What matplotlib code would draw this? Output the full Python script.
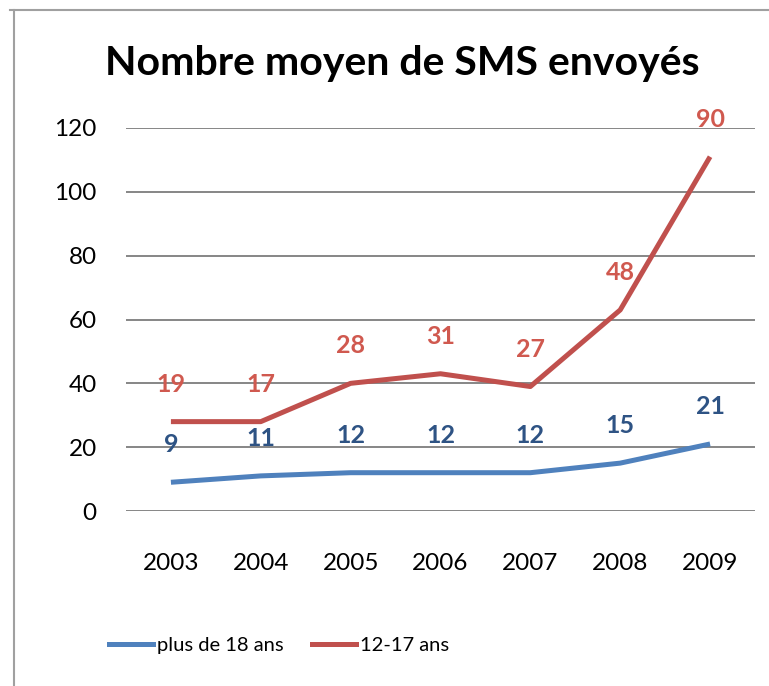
import numpy as np
import matplotlib
matplotlib.use("Agg")
from matplotlib import pyplot as plt
from matplotlib.lines import Line2D

years = ["2003", "2004", "2005", "2006", "2007", "2008", "2009"]
adults = [9, 11, 12, 12, 12, 15, 21]
teens = [19, 17, 28, 31, 27, 48, 90]
y_ticks = [0, 20, 40, 60, 80, 100, 120]

BLUE = "#4F81BD"
RED = "#C0504D"
FONT = "Lato"

fig = plt.figure(figsize=(7.69, 6.86), dpi=100)
ax = fig.add_axes([126 / 769, (686 - 511) / 686, 629 / 769, 383 / 686])

x = np.arange(len(years))
# the chart is a stacked line chart: the red line sits on top of the blue one
stacked = np.array(adults) + np.array(teens)

ax.plot(x, adults, color=BLUE, linewidth=3.6, solid_capstyle="butt", solid_joinstyle="round")
ax.plot(x, stacked, color=RED, linewidth=3.6, solid_capstyle="butt", solid_joinstyle="round")

for xi, v, lab in zip(x, adults, adults):
    ax.annotate(str(lab), (xi, v), textcoords="offset points", xytext=(0, 27),
                ha="center", va="center", fontsize=18, fontweight="bold",
                color="#2E5384", family=FONT)
for xi, v, lab in zip(x, stacked, teens):
    ax.annotate(str(lab), (xi, v), textcoords="offset points", xytext=(0, 27),
                ha="center", va="center", fontsize=18, fontweight="bold",
                color="#D0594F", family=FONT)

ax.set_xlim(-0.5, len(years) - 0.5)
ax.set_ylim(0, 120)
ax.set_yticks(y_ticks)
ax.set_xticks(x)
ax.set_xticklabels(years)
ax.yaxis.grid(True, color="#868686", linewidth=1.4)
ax.set_axisbelow(True)
for s in ax.spines.values():
    s.set_visible(False)
ax.tick_params(axis="both", length=0, labelsize=17.5)
ax.tick_params(axis="y", pad=21)
ax.tick_params(axis="x", pad=30)
for lab in ax.get_xticklabels() + ax.get_yticklabels():
    lab.set_family(FONT)

fig.text((105 + 700) / 2 / 769, 1 - 63 / 686, "Nombre moyen de SMS envoyés",
         ha="center", va="center", fontsize=29.5, fontweight="bold", family=FONT)

handles = [Line2D([], [], color=BLUE, linewidth=3.6),
           Line2D([], [], color=RED, linewidth=3.6)]
fig.legend(handles, ["plus de 18 ans", "12-17 ans"], loc="center",
           bbox_to_anchor=(279 / 769, 1 - 645 / 686), ncol=2, frameon=False,
           prop={"family": FONT, "size": 14.5}, handlelength=2.2, handletextpad=0.2,
           columnspacing=1.4)

# chart area border (only top and left visible in the crop)
fig.add_artist(Line2D([10 / 769, 1], [1 - 10 / 686, 1 - 10 / 686], color="#A0A0A0", linewidth=1.5))
fig.add_artist(Line2D([14 / 769, 14 / 769], [0, 1 - 10 / 686], color="#A0A0A0", linewidth=1.5))

plt.savefig("out.png", dpi=100)
